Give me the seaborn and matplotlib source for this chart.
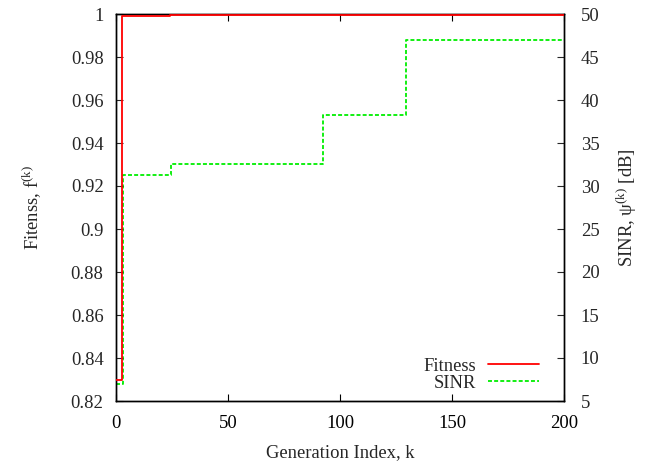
import matplotlib
matplotlib.use("Agg")
import matplotlib.pyplot as plt
import seaborn as sns
import pandas as pd

# Data (step change points)
gen_fit = [0, 2.5, 24, 92, 129, 200]
fitness = [0.8298, 0.9991, 0.9994, 0.9995, 0.9996, 0.9996]
gen_sinr = [0, 3, 24.5, 92.5, 129.3, 200]
sinr_db = [7.0, 31.3, 32.6, 38.3, 47.0, 47.0]

x_ticks = [0, 50, 100, 150, 200]
y_left_ticks = [0.82, 0.84, 0.86, 0.88, 0.9, 0.92, 0.94, 0.96, 0.98, 1]
y_left_labels = ["0.82", "0.84", "0.86", "0.88", "0.9", "0.92", "0.94", "0.96", "0.98", "1"]
y_right_ticks = [5, 10, 15, 20, 25, 30, 35, 40, 45, 50]

sns.set_style("white")
plt.rcParams["font.family"] = ["Liberation Serif", "DejaVu Serif"]
plt.rcParams["mathtext.fontset"] = "custom"
plt.rcParams["mathtext.rm"] = "Liberation Serif"
plt.rcParams["mathtext.it"] = "Liberation Serif:italic"

FS = 13.4
fig, ax = plt.subplots(figsize=(6.57, 4.65), dpi=100)
fig.subplots_adjust(left=116/657, right=564/657, top=1-14/465, bottom=1-401/465)

df_fit = pd.DataFrame({"k": gen_fit, "f": fitness})
df_sinr = pd.DataFrame({"k": gen_sinr, "s": sinr_db})

ax2 = ax.twinx()
ax.set_zorder(ax2.get_zorder() + 1)
ax.patch.set_visible(False)

sns.lineplot(data=df_fit, x="k", y="f", ax=ax, color="#ff0000", linewidth=1.3,
             drawstyle="steps-post", estimator=None, label="Fitness", legend=False,
             zorder=3)
sns.lineplot(data=df_sinr, x="k", y="s", ax=ax2, color="#00ee00", linewidth=1.3,
             drawstyle="steps-post", estimator=None, label="SINR", legend=False,
             linestyle=(0, (2.2, 1.2)))

ax.set_xlim(0, 200)
ax.set_ylim(0.82, 1.0)
ax2.set_ylim(5, 50)
ax.set_xticks(x_ticks)
ax.set_xticklabels([str(t) for t in x_ticks], fontsize=FS)
ax.set_yticks(y_left_ticks)
ax.set_yticklabels(y_left_labels, fontsize=FS)
ax2.set_yticks(y_right_ticks)
ax2.set_yticklabels([str(t) for t in y_right_ticks], fontsize=FS)

ax.tick_params(axis="x", direction="in", length=5, width=0.8, top=True, bottom=True, pad=10, colors="black")
ax.tick_params(axis="y", direction="in", length=5, width=0.8, left=True, right=False, pad=9)
ax2.tick_params(axis="y", direction="in", length=5, width=0.8, right=True, left=False, pad=12)

for a in (ax, ax2):
    for sp in a.spines.values():
        sp.set_color("black")
        sp.set_linewidth(1.0)

ax.set_xlabel("Generation Index, k", fontsize=FS, labelpad=9)
ax.set_ylabel(r"Fitenss, f$^{\mathrm{(k)}}$", fontsize=FS, labelpad=20)
ax2.set_ylabel(r"SINR, ψ$^{\mathrm{(k)}}$ [dB]", fontsize=FS, labelpad=11)

h1, l1 = ax.get_legend_handles_labels()
h2, l2 = ax2.get_legend_handles_labels()
ax.legend(h1 + h2, l1 + l2, loc="lower right", frameon=False, markerfirst=False,
          fontsize=FS, handlelength=2.75, labelspacing=0.0, borderaxespad=0.2,
          borderpad=0.3, handletextpad=0.65, bbox_to_anchor=(0.965, 0.0))

fig.savefig("out.png", dpi=100)
